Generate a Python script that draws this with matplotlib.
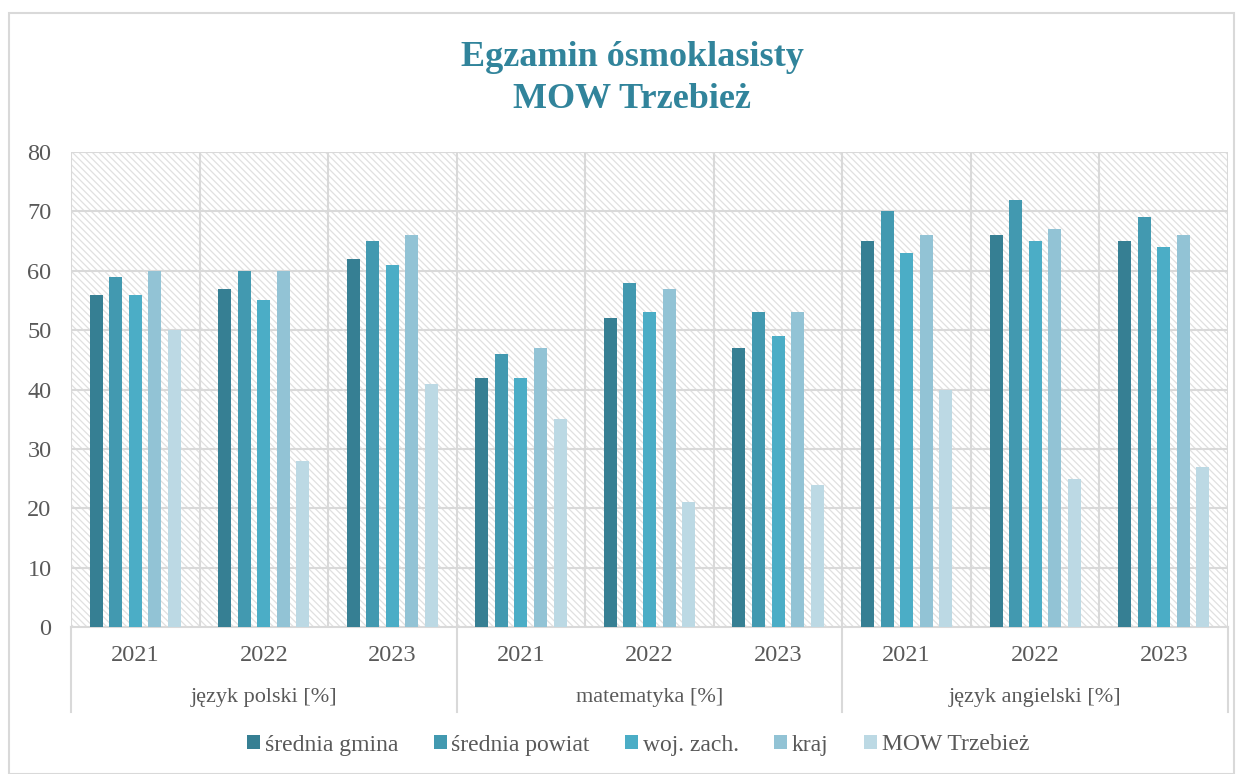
import numpy as np
import matplotlib.pyplot as plt
from matplotlib.patches import Rectangle, Patch
from matplotlib.lines import Line2D

plt.rcParams['font.family'] = ['Liberation Serif', 'DejaVu Serif']

# data
subjects = ['język polski [%]', 'matematyka [%]', 'język angielski [%]']
years = ['2021', '2022', '2023']
series = ['średnia gmina', 'średnia powiat', 'woj. zach.', 'kraj', 'MOW Trzebież']
gmina = [56, 57, 62, 42, 52, 47, 65, 66, 65]
powiat = [59, 60, 65, 46, 58, 53, 70, 72, 69]
woj = [56, 55, 61, 42, 53, 49, 63, 65, 64]
kraj = [60, 60, 66, 47, 57, 53, 66, 67, 66]
mow = [50, 28, 41, 35, 21, 24, 40, 25, 27]
values = [gmina, powiat, woj, kraj, mow]
colors = ['#367f93', '#4299b0', '#4badc6', '#92c3d5', '#bcd9e4']

txt = '#595959'
grid = '#d9d9d9'

fig = plt.figure(figsize=(12.44, 7.74), dpi=100)
ax = fig.add_axes([71 / 1244, 1 - 627 / 774, (1228 - 71) / 1244, (627 - 152) / 774])

# outer frame
fig.patches.append(Rectangle((9 / 1244, 0), 1225 / 1244, 1 - 13 / 774, transform=fig.transFigure,
                             fill=False, edgecolor=grid, lw=1.5, zorder=0))

n = len(gmina)
x = np.arange(n)
w = 0.101
pitch = 0.152
for i, (vals, c) in enumerate(zip(values, colors)):
    ax.bar(x + (i - 2) * pitch, vals, width=w, color=c, zorder=3, label=series[i])

ax.set_xlim(-0.5, n - 0.5)
ax.set_ylim(0, 80)

# hatched background
plt.rcParams['hatch.linewidth'] = 0.9
ax.add_patch(Rectangle((0, 0), 1, 1, transform=ax.transAxes, facecolor='white',
                       edgecolor='#e0e0e0', hatch='\\\\\\\\\\', lw=0, zorder=0))

for yv in range(10, 90, 10):
    ax.axhline(yv, color=grid, lw=1.5, zorder=1)
for xv in np.arange(-0.5, n, 1):
    ax.axvline(xv, color=grid, lw=1.5, zorder=1)

for s in ax.spines.values():
    s.set_color(grid)
    s.set_linewidth(1.5)
ax.spines['top'].set_visible(False)
ax.spines['right'].set_visible(False)
ax.spines['left'].set_visible(False)

ax.set_yticks(range(0, 90, 10))
ax.tick_params(axis='y', length=0, labelsize=17.5, labelcolor=txt, pad=14)
ax.set_xticks(x)
ax.set_xticklabels(years * 3)
ax.tick_params(axis='x', length=0, labelsize=17.5, labelcolor=txt, pad=13)

# group labels and separators below axis
for g, name in enumerate(subjects):
    ax.text(g * 3 + 1, -11.8, name, ha='center', va='center', fontsize=16, color=txt,
            transform=ax.transData, clip_on=False)
for xb in [-0.5, 2.5, 5.5, 8.5]:
    ax.add_line(Line2D([xb, xb], [0, -14.3], color=grid, lw=1.5, clip_on=False, zorder=1))

fig.text(0.508, 1 - 58 / 774, 'Egzamin ósmoklasisty', ha='center', va='center',
         fontsize=26, fontweight='bold', color='#31849b')
fig.text(0.508, 1 - 100 / 774, 'MOW Trzebież', ha='center', va='center',
         fontsize=26, fontweight='bold', color='#31849b')

handles = [Patch(facecolor=c, label=s) for c, s in zip(colors, series)]
fig.legend(handles=handles, loc='center', bbox_to_anchor=(0.513, 1 - 745 / 774), ncol=5,
           frameon=False, fontsize=17, handlelength=0.55, handleheight=0.55,
           handletextpad=0.2, columnspacing=1.5, labelcolor=txt)

fig.savefig('out.png', dpi=100)
